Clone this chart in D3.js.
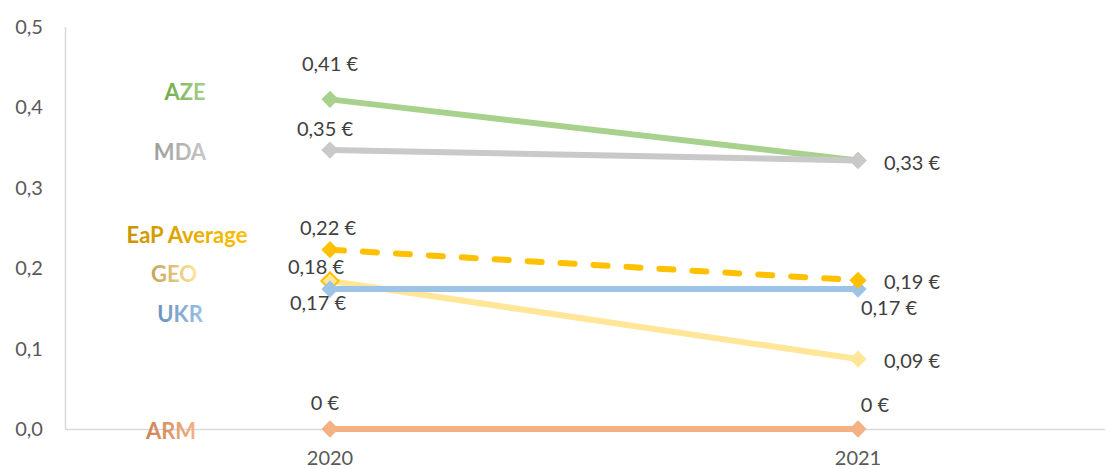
<!DOCTYPE html>
<html>
<head>
<meta charset="utf-8">
<script src="https://cdn.jsdelivr.net/npm/d3@7"></script>
<style>
  body { margin: 0; background: #fff; }
  svg text { font-family: Lato, "Open Sans", sans-serif; }
</style>
</head>
<body>
<div id="chart"></div>
<script>
// data
const years = ["2020", "2021"];
const seriesNames = ["AZE", "MDA", "GEO", "UKR", "EaP Average", "ARM"];
const aze = [0.41, 0.334];
const mda = [0.347, 0.334];
const geo = [0.184, 0.087];
const ukr = [0.174, 0.174];
const eap = [0.223, 0.185];
const arm = [0, 0];
const valueLabels = {
    "AZE": ["0,41 €", "0,33 €"],
    "MDA": ["0,35 €", ""],
    "GEO": ["0,18 €", "0,09 €"],
    "UKR": ["0,17 €", "0,17 €"],
    "EaP Average": ["0,22 €", "0,19 €"],
    "ARM": ["0 €", "0 €"]
};
const yTicks = [0, 0.1, 0.2, 0.3, 0.4, 0.5];

const seriesValues = [aze, mda, geo, ukr, eap, arm];

// styling
const styles = {
    "AZE": {color: "#A9D18E", dark: "#6FA84A"},
    "MDA": {color: "#C9C9C9", dark: "#9C9C9C"},
    "GEO": {color: "#FFE699", dark: "#C4A25A"},
    "UKR": {color: "#9DC3E6", dark: "#6A92BC"},
    "EaP Average": {color: "#FFC000", dark: "#C99200", dashed: true},
    "ARM": {color: "#F4B183", dark: "#C98255"}
};
// series label placement (pixel offsets from value at 2020)
const nameOffsets = {"AZE": [185, -7], "MDA": [180, 2], "GEO": [174, -7], "UKR": [180, 25], "EaP Average": [187, -14], "ARM": [171, 2]};
// value label placement: [dx, dy, anchor]
const labelPos = {
    "AZE": [[0, -35, "middle"], [26, 3, "start"]],
    "MDA": [[-5, -21, "middle"], [0, 0, "start"]],
    "GEO": [[-14, -14, "middle"], [26, 2, "start"]],
    "UKR": [[-12, 14, "middle"], [31, 19, "middle"]],
    "EaP Average": [[-2, -22, "middle"], [26, 2, "start"]],
    "ARM": [[-5, -26, "middle"], [17, -24, "middle"]]
};

const W = 1108, H = 469;
const svg = d3.select("#chart").append("svg")
    .attr("width", W)
    .attr("height", H);

const x = d3.scaleBand().domain(years).range([66, 1122]);
const y = d3.scaleLinear().domain([0, 0.5]).range([429, 27]);
const cx = d => x(d) + x.bandwidth() / 2;

// gradients for series name labels
const defs = svg.append("defs");
seriesNames.forEach((name, i) => {
    const g = defs.append("linearGradient")
        .attr("id", "grad" + i)
        .attr("x1", "0%").attr("x2", "100%");
    g.append("stop").attr("offset", "0%").attr("stop-color", styles[name].dark);
    g.append("stop").attr("offset", "100%").attr("stop-color", styles[name].color);
});

// axes
svg.append("line")
    .attr("x1", 65.5).attr("x2", 65.5)
    .attr("y1", y(0.5)).attr("y2", y(0))
    .attr("stroke", "#D9D9D9").attr("stroke-width", 1.5);
svg.append("line")
    .attr("x1", 65).attr("x2", 1105)
    .attr("y1", y(0) + 0.5).attr("y2", y(0) + 0.5)
    .attr("stroke", "#D9D9D9").attr("stroke-width", 1.5);

const fmt = d3.format(".1f");
svg.selectAll(".ytick")
    .data(yTicks)
    .enter().append("text")
    .attr("class", "ytick")
    .attr("x", 29)
    .attr("y", d => y(d))
    .attr("dy", "0.35em")
    .attr("text-anchor", "middle")
    .attr("font-size", 20)
    .attr("fill", "#595959")
    .text(d => fmt(d).replace(".", ","));

svg.selectAll(".xtick")
    .data(years)
    .enter().append("text")
    .attr("class", "xtick")
    .attr("x", d => cx(d))
    .attr("y", 465)
    .attr("text-anchor", "middle")
    .attr("font-size", 20)
    .attr("fill", "#595959")
    .text(d => d);

// lines
const line = d3.line()
    .x((d, i) => cx(years[i]))
    .y(d => y(d));

const diamond = d3.symbol().type(d3.symbolDiamond2).size(190);

seriesNames.forEach((name, i) => {
    const vals = seriesValues[i];
    const st = styles[name];
    const g = svg.append("g");

    g.append("path")
        .datum(vals)
        .attr("d", line)
        .attr("fill", "none")
        .attr("stroke", st.color)
        .attr("stroke-width", 6)
        .attr("stroke-linecap", st.dashed ? "round" : "butt")
        .attr("stroke-dasharray", st.dashed ? "14,19" : null);

    g.selectAll("path.mk")
        .data(vals)
        .enter().append("path")
        .attr("class", "mk")
        .attr("d", diamond)
        .attr("transform", (d, j) => `translate(${cx(years[j])},${y(d)})`)
        .attr("fill", st.color)
        .attr("stroke", (d, j) => (name === "GEO" && j === 0) ? "#FFC000" : "none")
        .attr("stroke-width", 2);
});

// value labels
seriesNames.forEach((name, i) => {
    const vals = seriesValues[i];
    vals.forEach((v, j) => {
        const txt = valueLabels[name][j];
        if (!txt) return;
        const p = labelPos[name][j];
        svg.append("text")
            .attr("x", cx(years[j]) + p[0])
            .attr("y", y(v) + p[1])
            .attr("dy", "0.35em")
            .attr("text-anchor", p[2])
            .attr("font-size", 20)
            .attr("fill", "#404040")
            .text(txt);
    });
});

// series names
seriesNames.forEach((name, i) => {
    const o = nameOffsets[name];
    svg.append("text")
        .attr("x", o[0])
        .attr("y", y(seriesValues[i][0]) + o[1])
        .attr("dy", "0.35em")
        .attr("text-anchor", "middle")
        .attr("font-size", 22)
        .attr("font-weight", "bold")
        .attr("fill", `url(#grad${i})`)
        .text(name);
});
</script>
</body>
</html>
